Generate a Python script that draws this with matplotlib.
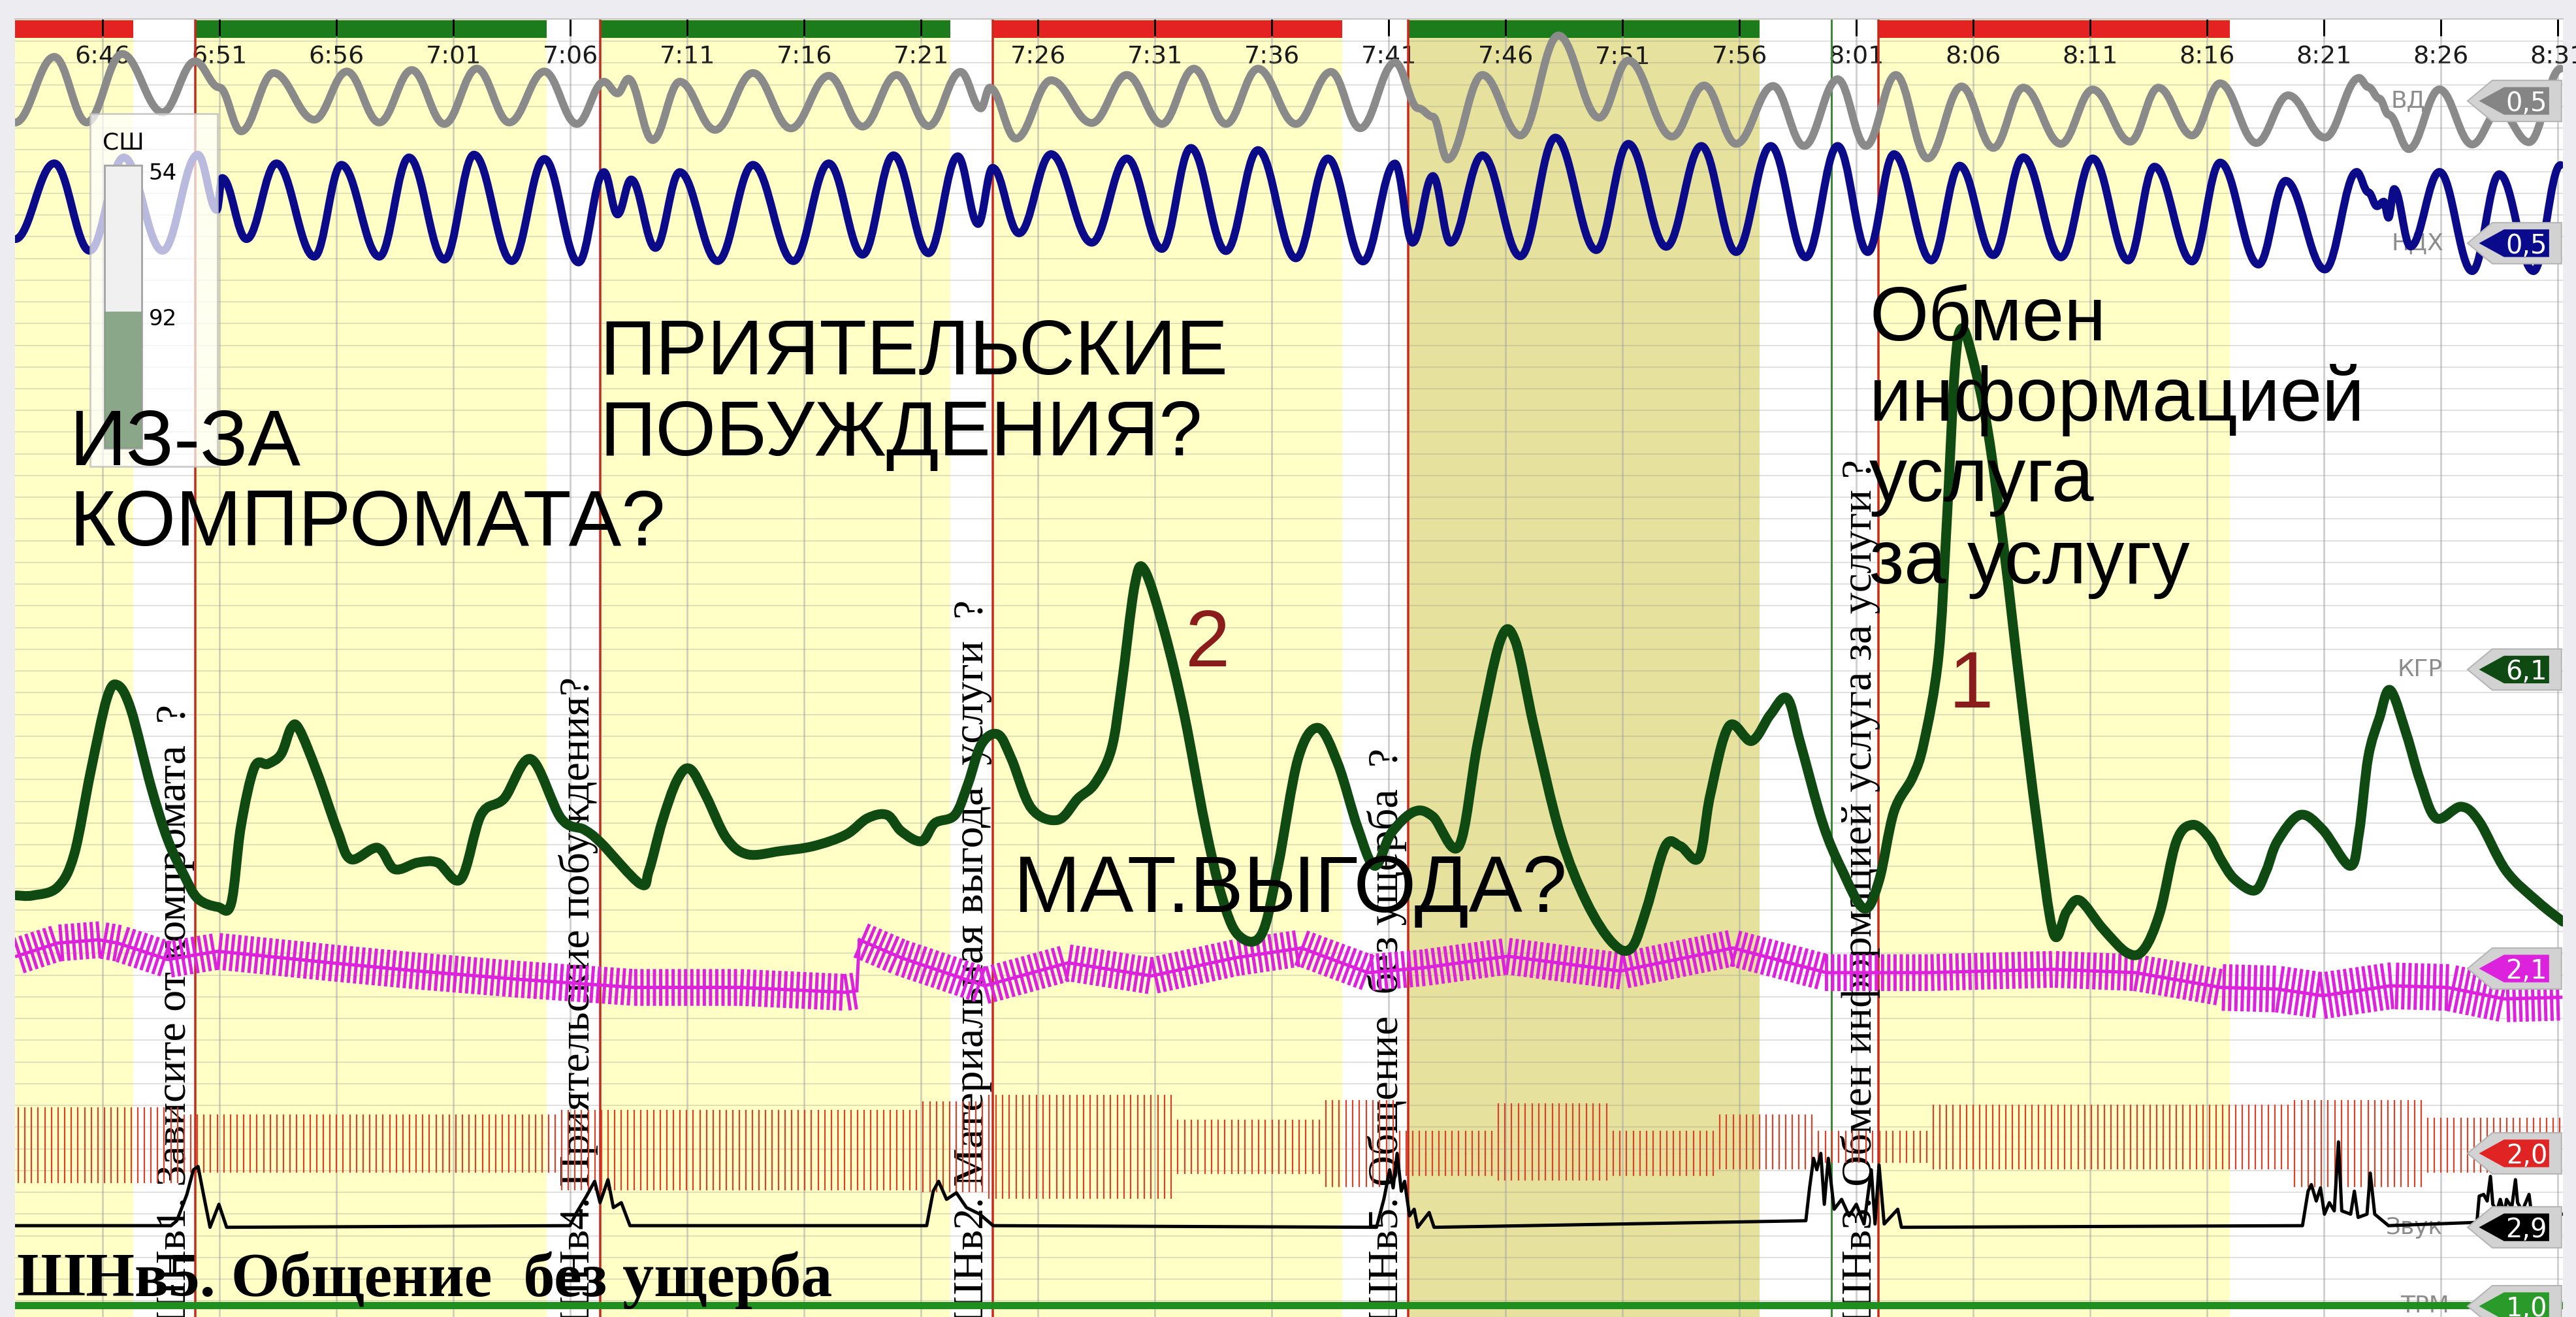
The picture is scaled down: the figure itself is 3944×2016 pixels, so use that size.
import numpy as np
import matplotlib
matplotlib.use("Agg")
import matplotlib.pyplot as plt
from matplotlib import patheffects as pe
from matplotlib.patches import Polygon, Rectangle, PathPatch
from matplotlib.path import Path

W, H, DPI = 3944, 2016, 72

# x: minutes after 6:00, y: position on the chart paper in rows (0 = top)
tick_minutes = [46, 51, 56, 61, 66, 71, 76, 81, 86, 91, 96, 101, 106,
                111, 116, 121, 126, 131, 136, 141, 146, 151]
tick_labels = ['6:46', '6:51', '6:56', '7:01', '7:06', '7:11', '7:16', '7:21',
               '7:26', '7:31', '7:36', '7:41', '7:46', '7:51', '7:56', '8:01',
               '8:06', '8:11', '8:16', '8:21', '8:26', '8:31']

# presentation periods (status bar + paper colour)
period_start = [42.25, 49.95, 67.28, 84.06, 101.84, 121.94]
period_end = [47.3, 65.0, 82.26, 99.0, 116.85, 136.96]
period_kind = ['rel', 'ctrl', 'ctrl', 'rel', 'ctrl', 'rel']
period_paper = ['y', 'y', 'y', 'y', 'o', 'y']

question_onsets = [49.95, 67.28, 84.06, 101.84, 121.94]
answer_mark = 119.93

question_texts = [
    'ШНв1. Зависите от компромата  ?',
    'ШНв4. Приятельские побуждения?',
    'ШНв2. Материальная выгода  услуги  ?',
    'ШНв5. Общение  без ущерба  ?',
    'ШНв3. Обмен информацией услуга за услуги ?',
]
question_text_t = [49.55, 66.81, 83.65, 101.39, 121.64]

# upper breathing (ВД), extrema
vd = [(42.26, 74.5), (43.93, 34.6), (45.32, 74.5), (46.83, 32.8), (48.56, 68.3),
      (49.95, 37.3), (50.99, 53.2), (51.92, 79.9), (53.31, 44.4), (55.05, 72.8),
      (56.44, 43.5), (57.83, 74.5), (59.22, 42.6), (60.61, 75.4), (62.0, 41.7),
      (63.39, 74.5), (64.89, 43.5), (66.28, 75.4), (67.44, 49.7), (68.02, 56.8),
      (68.48, 47.9), (69.52, 85.2), (70.68, 49.7), (72.19, 79.0), (73.81, 44.4),
      (75.43, 78.1), (77.05, 46.1), (78.5, 77.0), (79.95, 45.6), (81.32, 76.7),
      (82.69, 43.7), (83.56, 65.9), (83.94, 53.3), (85.06, 84.3), (86.56, 48.8),
      (88.30, 74.8), (89.80, 45.6), (91.30, 75.4), (92.67, 41.8), (94.04, 75.4),
      (95.41, 41.8), (97.03, 75.4), (98.53, 43.7), (99.78, 78.0), (101.27, 38.0),
      (102.27, 65.9), (102.89, 71.0), (103.52, 97.0), (105.01, 45.6), (106.63, 82.4),
      (108.26, 21.6), (110.0, 71.6), (111.25, 36.8), (113.12, 83.1), (114.49, 52.0),
      (115.86, 87.5), (117.44, 52.3), (118.76, 88.8), (120.20, 48.2), (121.41, 88.8),
      (122.69, 45.6), (124.05, 96.4), (125.50, 52.6), (126.86, 90.0), (128.14, 53.3),
      (129.75, 87.5), (131.11, 54.5), (132.71, 86.2), (133.92, 53.3), (135.36, 82.4),
      (136.56, 50.7), (138.11, 87.0), (139.47, 58.0), (141.04, 83.7), (142.5, 47.4),
      (142.9, 53.0), (143.37, 60.0), (143.76, 69.7), (144.63, 90.7), (145.94, 54.4),
      (147.34, 87.9), (148.5, 67.0), (149.77, 86.5), (151.12, 41.8)]

# lower breathing (НДХ), extrema
ndh = [(42.26, 145.5), (43.93, 99.4), (45.44, 152.6), (46.9, 95.8), (48.56, 152.6),
       (50.07, 94.1), (50.88, 127.8), (51.11, 108.3), (52.15, 145.5), (53.43, 99.4),
       (55.05, 156.2), (56.21, 100.3), (57.83, 156.2), (59.10, 95.8), (60.61, 158.0),
       (61.88, 94.1), (63.50, 158.9), (64.89, 96.7), (66.35, 159.7), (67.44, 104.7),
       (68.02, 130.5), (68.6, 109.2), (69.64, 150.9), (70.68, 104.7), (72.3, 158.9),
       (73.81, 100.3), (75.54, 158.9), (77.05, 99.4), (78.5, 155.0), (79.82, 94.5),
       (81.32, 154.1), (82.57, 95.1), (83.44, 136.3), (84.06, 102.1), (85.19, 142.0),
       (86.56, 93.8), (88.30, 147.7), (89.80, 96.4), (91.30, 151.5), (92.54, 90.0),
       (94.04, 152.8), (95.41, 91.3), (97.03, 157.2), (98.40, 96.4), (99.9, 159.1),
       (101.27, 99.5), (102.02, 147.7), (102.89, 107.1), (103.64, 147.7), (105.01, 94.5),
       (106.63, 156.0), (108.13, 83.7), (109.88, 152.2), (111.25, 87.5), (112.87, 150.2),
       (114.37, 88.8), (115.86, 153.4), (117.34, 88.8), (118.84, 156.6), (120.2, 88.8),
       (121.49, 153.4), (122.61, 93.8), (124.21, 158.5), (125.42, 100.8), (126.86, 155.3),
       (128.14, 95.7), (129.75, 156.6), (131.11, 96.4), (132.63, 158.5), (133.75, 101.4),
       (135.36, 159.1), (136.56, 98.9), (138.2, 161.0), (139.36, 110.0), (141.04, 164.0),
       (142.4, 104.6), (142.9, 117.0), (143.27, 125.5), (143.56, 122.7), (143.76, 132.5),
       (144.0, 115.0), (144.7, 150.0), (145.94, 104.6), (147.34, 165.0), (148.5, 106.0),
       (149.96, 165.0), (151.12, 100.4)]

# skin conductance (КГР)
kgr = [(42.32, 545), (43.02, 545), (44.07, 540), (44.78, 520), (45.48, 470),
       (46.18, 425), (46.64, 417), (47.21, 432), (48.07, 479), (48.78, 511),
       (49.49, 533), (50.07, 547), (50.92, 552), (51.49, 550), (51.91, 503),
       (52.49, 467), (53.06, 465), (53.63, 459), (54.06, 443), (54.41, 444),
       (55.19, 471), (56.05, 506), (56.62, 523), (57.76, 516), (58.48, 529),
       (59.47, 525), (60.32, 525), (61.32, 535), (62.18, 496), (63.17, 486),
       (64.31, 462), (65.6, 498), (66.6, 505), (67.31, 513), (68.99, 538),
       (69.36, 530), (69.93, 500), (70.56, 475), (71.12, 468), (71.82, 485),
       (72.67, 510), (73.58, 520), (74.98, 518), (76.39, 515), (77.79, 508),
       (78.71, 498), (79.55, 496), (80.16, 506), (81.02, 512), (81.59, 501),
       (82.45, 496), (83.01, 477), (83.58, 453), (84.29, 447), (84.87, 462),
       (85.72, 492), (86.86, 499), (87.71, 486), (88.43, 477), (89.14, 456),
       (89.57, 418), (90.14, 356), (90.56, 347), (91.42, 385), (92.27, 436),
       (93.13, 501), (93.85, 545), (94.56, 569), (95.55, 569), (96.27, 527),
       (97.12, 462), (97.98, 443), (98.83, 465), (99.68, 504), (100.4, 527),
       (101.11, 507), (102.09, 494), (102.89, 497), (104.0, 515), (104.81, 452),
       (105.77, 390), (106.41, 390), (107.21, 442), (108.34, 508), (109.46, 549),
       (110.58, 574), (111.38, 577), (112.03, 553), (112.83, 515), (113.47, 515),
       (114.27, 522), (114.75, 484), (115.55, 442), (116.52, 451), (117.32, 435),
       (118.04, 425), (118.6, 452), (119.56, 501), (120.37, 529), (121.33, 553),
       (121.97, 536), (122.61, 494), (123.41, 473), (123.89, 452), (124.51, 400),
       (124.86, 320), (125.21, 225), (125.49, 200), (125.92, 215), (126.62, 262),
       (127.32, 335), (128.02, 420), (128.72, 500), (129.43, 568), (129.99, 555),
       (130.55, 548), (131.53, 565), (132.59, 580), (133.29, 578), (133.99, 555),
       (134.69, 512), (135.4, 502), (136.1, 510), (136.59, 523), (137.17, 535),
       (138.04, 542), (138.53, 530), (139.01, 512), (139.98, 496), (140.95, 505),
       (142.11, 527), (142.5, 507), (142.89, 461), (143.37, 437), (143.83, 420),
       (144.53, 447), (145.11, 475), (145.8, 498), (146.86, 491), (147.64, 500),
       (148.79, 530), (150.16, 549), (151.22, 561)]

# plethysmogram (magenta): band centre; the trace steps up at 78.3 min
pg_before = [(42.32, 582), (44.07, 574), (45.83, 572), (46.64, 574), (48.78, 584),
             (50.92, 579), (55.76, 586), (59.47, 591), (63.74, 596), (68.73, 601),
             (73.23, 601), (77.79, 604), (78.25, 603)]
pg_after = [(78.36, 572), (80.16, 583), (83.72, 600), (87.29, 586), (90.85, 594),
            (94.42, 583), (97.27, 577), (100.11, 592), (102.51, 589), (106.09, 582),
            (110.9, 591), (115.72, 577), (119.72, 592), (124.02, 592), (129.43, 590),
            (132.94, 592), (136.59, 601)]
pg_end = [(136.59, 601), (139.01, 602), (140.95, 606), (143.86, 600), (146.28, 601),
          (148.71, 608), (151.13, 607)]
pg_amp = [11.0, 11.0, 14.0]

# cardio (red): parts with centre and half-height
cd_start = [42.25, 49.34, 65.5, 80.95, 83.77, 91.84, 98.17, 101.33, 105.54,
            110.46, 115.03, 119.24, 124.16, 139.61, 145.3]
cd_end = [49.34, 65.5, 80.95, 83.77, 91.84, 98.17, 101.33, 105.54, 110.46,
          115.03, 119.24, 124.16, 139.61, 145.3, 151.22]
cd_center = [697, 696, 700, 698, 698, 698, 696, 702, 695, 702, 695, 698, 692, 696, 697]
cd_amp = [23.5, 18, 25, 28, 32, 17, 27, 14, 24, 14, 17, 10, 20, 27, 17]

# sound channel (Звук)
snd = [(42.25, 746), (48.92, 746), (49.17, 743), (49.6, 727), (49.88, 712), (50.08, 710),
       (50.31, 727), (50.59, 747), (50.97, 733), (51.3, 747), (65.98, 746), (66.27, 738),
       (66.69, 728), (67.04, 719), (67.27, 732), (67.61, 718), (67.84, 735), (68.18, 732),
       (68.55, 746), (81.24, 746), (81.52, 725), (81.75, 719), (82.09, 730), (82.51, 726),
       (82.94, 735), (83.51, 739), (84.08, 746), (100.48, 747), (100.8, 729.5),
       (101.04, 712), (101.19, 723), (101.36, 702), (101.54, 725), (101.68, 719),
       (101.89, 740), (102.09, 736), (102.24, 747), (102.73, 738), (102.94, 747),
       (118.84, 743), (119.0, 723), (119.17, 705), (119.31, 712), (119.48, 702),
       (119.63, 733), (119.8, 705), (120.05, 736), (120.37, 730), (120.69, 740),
       (121.0, 733), (121.33, 745), (121.64, 712), (121.8, 745), (121.97, 709),
       (122.19, 745), (122.77, 736), (122.93, 747), (140.08, 746), (140.32, 725),
       (140.46, 721), (140.67, 731), (140.85, 723), (141.02, 739), (141.23, 732),
       (141.44, 737), (141.62, 695), (141.76, 737), (142.14, 739), (142.3, 725),
       (142.46, 741), (142.84, 739), (142.98, 714), (143.17, 739), (143.76, 746),
       (147.54, 744), (147.64, 728), (147.83, 727), (147.98, 731), (148.12, 716),
       (148.22, 733), (148.39, 737), (148.54, 730), (148.71, 739), (148.81, 730),
       (149.03, 735), (149.19, 718), (149.28, 732), (149.48, 737), (149.77, 727),
       (149.86, 737), (150.06, 739), (151.2, 739)]

# tremor (ТРМ)
trm = [(42.25, 794.5), (151.22, 794.5)]

# channel tags on the right
tag_names = ['ВД', 'НДХ', 'КГР', '', '', 'Звук', 'ТРМ']
tag_values = ['0,5', '0,5', '6,1', '2,1', '2,0', '2,9', '1,0']
tag_levels = [61.4, 148, 407.5, 589.5, 702, 747, 795]
tag_colors = ['#858585', '#0A0A8C', '#0E4A12', '#DD22DD', '#E02424', '#000000', '#2A9A2A']

C_YEL, C_OLIVE = '#FFFFC6', '#E6E29E'
C_RED, C_GREEN = '#E52222', '#1C7C1C'

fig = plt.figure(figsize=(W / DPI, H / DPI), dpi=DPI, facecolor='#EDEDF1')
ax = fig.add_axes([23 / W, 0, (3924 - 23) / W, (H - 29) / H])
ax.set_xlim(42.25, 151.22)
ax.set_ylim(801.6, 11.5)
ax.set_facecolor('white')
px_per_row = (H - 29) / (801.6 - 11.5)

for s, e, p in zip(period_start, period_end, period_paper):
    ax.axvspan(s, e, color=C_YEL if p == 'y' else C_OLIVE, lw=0, zorder=0.1)
for s, e, k in zip(period_start, period_end, period_kind):
    ax.fill_between([s, e], 12.1, 23.1, color=C_RED if k == 'rel' else C_GREEN,
                    lw=0, zorder=0.3)

ax.set_axisbelow(True)
ax.set_xticks(tick_minutes)
ax.set_xticklabels(tick_labels)
ax.set_yticks(np.arange(25.04, 801.6, 13.22))
ax.grid(axis='y', color='#8E8E8E', alpha=0.33, lw=1.6)
ax.grid(axis='x', color='#A8A8A8', alpha=0.55, lw=2.8)
ax.tick_params(axis='x', direction='in', length=26, width=3, color='black',
               top=True, bottom=False, labeltop=True, labelbottom=False,
               pad=-76, labelsize=38, labelcolor='#1A1A1A')
ax.tick_params(axis='y', length=0, labelleft=False)
for side in ['left', 'right', 'bottom']:
    ax.spines[side].set_visible(False)
ax.spines['top'].set_color('#C4C4C4')
ax.spines['top'].set_linewidth(2)

for t in question_onsets:
    ax.axvline(t, color='#C62A1E', lw=3.5, zorder=1.5)
ax.axvline(answer_mark, color='#3A8A3A', lw=3, zorder=1.5)

for t0, txt in zip(question_text_t, question_texts):
    ax.text(t0, 806, txt, rotation=90, rotation_mode='anchor', ha='left',
            va='baseline', fontsize=66, family='Liberation Serif', color='black',
            zorder=1.8, clip_on=True)

name_t = [144.6, 145.0, 145.1, 0, 0, 144.85, 145.3]
for nm, nt, lev in zip(tag_names, name_t, tag_levels):
    if nm:
        ax.text(nt, lev, nm, fontsize=36, color='#8C8C8C', ha='center',
                va='center', zorder=1)


def wave(points, color, lw, k=0.38):
    # smooth breathing wave: Bezier segments with flat tangents at each extremum
    p = np.array(points, dtype=float)
    verts, codes = [tuple(p[0])], [Path.MOVETO]
    for (t0, y0), (t1, y1) in zip(p[:-1], p[1:]):
        d = (t1 - t0) * k
        verts += [(t0 + d, y0), (t1 - d, y1), (t1, y1)]
        codes += [Path.CURVE4] * 3
    ax.add_patch(PathPatch(Path(verts, codes), fill=False, ec=color, lw=lw,
                           capstyle='round', joinstyle='round', zorder=3))


def smooth(points, color, lw):
    # Catmull-Rom style Bezier through the read points
    p = np.array(points, dtype=float)
    q = np.vstack([p[0], p, p[-1]])
    verts, codes = [tuple(p[0])], [Path.MOVETO]
    for i in range(1, len(q) - 2):
        c1 = q[i] + (q[i + 1] - q[i - 1]) / 6
        c2 = q[i + 1] - (q[i + 2] - q[i]) / 6
        verts += [tuple(c1), tuple(c2), tuple(q[i + 1])]
        codes += [Path.CURVE4] * 3
    ax.add_patch(PathPatch(Path(verts, codes), fill=False, ec=color, lw=lw,
                           capstyle='round', joinstyle='round', zorder=3))


def trace(points, **kw):
    t, y = np.array(points, dtype=float).T
    ax.plot(t, y, solid_joinstyle='round', solid_capstyle='round', zorder=3, **kw)


def comb(t, y, amp, spacing, core=0, **kw):
    length = max(amp * px_per_row - 2, 1) / spacing
    fx = [pe.TickedStroke(spacing=spacing, angle=90, length=length),
          pe.TickedStroke(spacing=spacing, angle=-90, length=length)]
    if core:
        fx.insert(0, pe.Stroke(linewidth=core))
    ax.plot(t, y, path_effects=fx, zorder=3, **kw)


wave(vd, '#8A8A8A', 12)
wave(ndh, '#0B0B8A', 12)

for part, a in zip([pg_before, pg_after, pg_end], pg_amp):
    t, y = np.array(part, dtype=float).T
    comb(t, y, a, 9.5, core=5, color='#DD22DD', lw=5)
trace([pg_before[-1], pg_after[0]], color='#DD22DD', lw=5)

for s, e, c, a in zip(cd_start, cd_end, cd_center, cd_amp):
    comb([s, e], [c, c], a, 10, color='#D8432A', lw=2.2)

trace(snd, color='black', lw=5)
trace(trm, color='#1F8F1F', lw=11)
smooth(kgr, '#0E4A12', 15)

# СШ gauge
ax.add_patch(Rectangle((45.47, 69), 5.45, 215, fc='white', alpha=0.72,
                       ec='#BDBDBD', lw=3, zorder=4))
ax.add_patch(Rectangle((46.08, 100.6), 1.6, 172.2, fc='#F0F0F0', ec='#A8A8A8',
                       lw=3, zorder=4.1))
ax.add_patch(Rectangle((46.08, 189.7), 1.6, 83.1, fc='#7F9F7F', ec='none',
                       alpha=0.9, zorder=4.2))
ax.text(46.89, 87, 'СШ', fontsize=36, ha='center', va='center', zorder=4.3)
ax.text(47.96, 105.6, '54', fontsize=34, ha='left', va='center', zorder=4.3)
ax.text(47.96, 194.4, '92', fontsize=34, ha='left', va='center', zorder=4.3)

# overlay notes
notes = [('ИЗ-ЗА', 44.57, 283, 121), ('КОМПРОМАТА?', 44.57, 332, 121),
         ('ПРИЯТЕЛЬСКИЕ', 67.26, 228, 119), ('ПОБУЖДЕНИЯ?', 67.26, 277, 119),
         ('МАТ.ВЫГОДА?', 84.96, 555, 123),
         ('Обмен', 121.56, 207, 116), ('информацией', 121.56, 256, 116),
         ('услуга', 121.56, 305, 116), ('за услугу', 121.56, 355, 116)]
for txt, x, y, fs in notes:
    ax.text(x, y, txt, fontsize=fs, family='Liberation Sans', ha='left',
            va='baseline', color='black', zorder=6)
ax.text(93.25, 393, '2', fontsize=123, family='Liberation Sans', color='#8B1C1C',
        ha='center', va='center', zorder=6)
ax.text(125.92, 418, '1', fontsize=123, family='Liberation Sans', color='#8B1C1C',
        ha='center', va='center', zorder=6)

# value tags
for val, lev, col in zip(tag_values, tag_levels, tag_colors):
    outer = [(147.14, lev), (148.2, lev - 12.5), (151.16, lev - 12.5),
             (151.16, lev + 12.5), (148.2, lev + 12.5)]
    inner = [(147.63, lev), (148.7, lev - 8.4), (150.63, lev - 8.4),
             (150.63, lev + 8.4), (148.7, lev + 8.4)]
    ax.add_patch(Polygon(outer, closed=True, fc='#D2D2D2', ec='#B4B4B4', lw=2, zorder=7))
    ax.add_patch(Polygon(inner, closed=True, fc=col, ec='none', zorder=7.1))
    ax.text(150.55, lev, val, fontsize=40, color='white', ha='right',
            va='center_baseline', zorder=7.2)

ax.text(42.32, 789, 'ШНв5. Общение  без ущерба', fontsize=96,
        family='Liberation Serif', weight='bold', ha='left', va='baseline',
        color='black', zorder=9)

fig.savefig('out.png', dpi=DPI, facecolor=fig.get_facecolor())
